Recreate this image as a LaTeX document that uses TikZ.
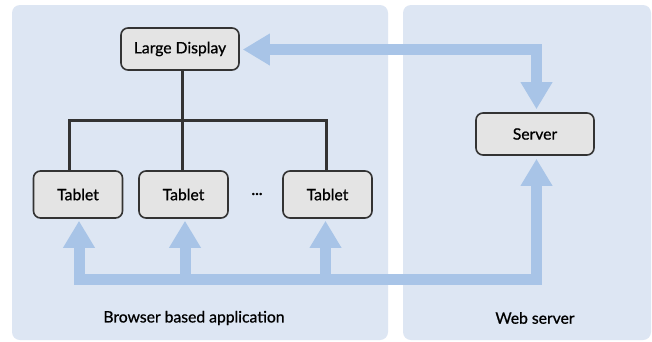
\documentclass[tikz,border=0pt]{standalone}
\usepackage{fontspec}
\setmainfont{Lato}[FakeBold=0.8]
\usetikzlibrary{arrows.meta,calc}
\definecolor{panel}{HTML}{DDE6F3}
\definecolor{boxfill}{HTML}{E4E4E4}
\definecolor{boxline}{HTML}{333333}
\definecolor{flow}{HTML}{A8C4E7}
\tikzset{
  panelbox/.style={fill=panel, draw=none, rounded corners=8pt},
  devbox/.style={draw=boxline, fill=boxfill, line width=1.6pt, rounded corners=7pt,
    minimum height=42pt, inner sep=0pt, font=\fontsize{15.7}{17}\selectfont, text=black},
  tabbox/.style={devbox, minimum width=89pt, minimum height=47pt},
  wire/.style={draw=boxline, line width=3pt},
  flowline/.style={draw=flow, line width=11pt, line join=miter,
    arrows={-Triangle[length=27pt,width=30pt]}},
  panellabel/.style={font=\fontsize{15.7}{17}\selectfont, text=black}
}
\begin{document}
\begin{tikzpicture}[x=1pt,y=-1pt]
\useasboundingbox (0,0) rectangle (652,341);
\fill[white] (0,0) rectangle (652,341);
% panels
\path[panelbox] (12,5) rectangle (388,340);
\path[panelbox] (403,5) rectangle (651,340);
\node[panellabel] (lbl1) at (194,318) {Browser based application};
\node[panellabel] (lbl2) at (535,318) {Web server};
% boxes
\node[devbox, minimum width=118pt] (ld) at (180,49) {Large Display};
\node[devbox, minimum width=118pt] (srv) at (535,134) {Server};
\node[tabbox] (t1) at (78,194.5) {Tablet};
\node[tabbox] (t2) at (183.5,194.5) {Tablet};
\node[tabbox] (t3) at (327.5,194.5) {Tablet};
\node[font=\bfseries\fontsize{14}{16}\selectfont] (dots) at (257,194) {…};
% black tree
\coordinate (tree) at (182.5,120);
\draw[wire] (ld.south -| tree) -- (tree);
\draw[wire] ($(t1.north)+(-8.5,0)$) |- (tree) -| ($(t3.north)+(-1,0)$);
\draw[wire] (tree) -- (t2.north -| tree);
% blue flows
\coordinate (bus) at (0,279.5);
\draw[flowline, arrows={Triangle[length=27pt,width=30pt]-Triangle[length=27pt,width=30pt]}]
  ($(ld.east)+(3,0.5)$) -- ($(srv.north |- ld.east)+(1.5,0.5)$) -- ($(srv.north)+(1.5,-3)$);
\draw[flowline, arrows={Triangle[length=27pt,width=30pt]-Triangle[length=27pt,width=30pt]}]
  ($(t1.south)+(1,2)$) -- ($(t1.south |- bus)+(1,0)$) -- ($(srv.south |- bus)+(1.5,0)$) -- ($(srv.south)+(1.5,3)$);
\draw[flowline] ($(t2.south |- bus)+(1.5,0)$) -- ($(t2.south)+(1.5,2)$);
\draw[flowline] ($(t3.south |- bus)+(-2,0)$) -- ($(t3.south)+(-2,2)$);
\end{tikzpicture}
\end{document}
